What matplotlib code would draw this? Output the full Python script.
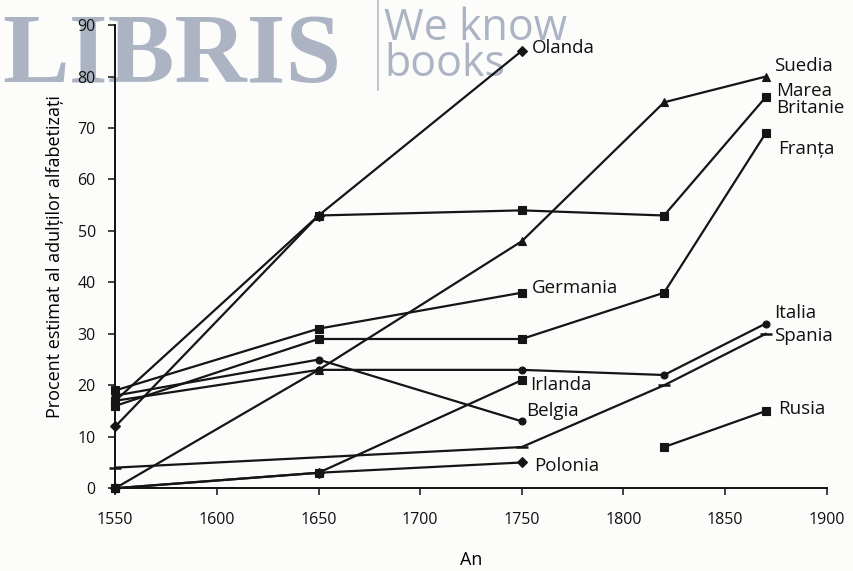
import matplotlib.pyplot as plt
from matplotlib.lines import Line2D

# Date: procent estimat al adulților alfabetizați
tari = ['Olanda', 'Marea Britanie', 'Germania', 'Franța', 'Belgia', 'Italia',
        'Suedia', 'Spania', 'Irlanda', 'Polonia', 'Rusia']

ani = {
    'Olanda': [1550, 1650, 1750],
    'Marea Britanie': [1550, 1650, 1750, 1820, 1870],
    'Germania': [1550, 1650, 1750],
    'Franța': [1550, 1650, 1750, 1820, 1870],
    'Belgia': [1550, 1650, 1750],
    'Italia': [1550, 1650, 1750, 1820, 1870],
    'Suedia': [1550, 1650, 1750, 1820, 1870],
    'Spania': [1550, 1750, 1820, 1870],
    'Irlanda': [1550, 1650, 1750],
    'Polonia': [1550, 1650, 1750],
    'Rusia': [1820, 1870],
}

procente = {
    'Olanda': [12, 53, 85],
    'Marea Britanie': [17, 53, 54, 53, 76],
    'Germania': [19, 31, 38],
    'Franța': [16, 29, 29, 38, 69],
    'Belgia': [18, 25, 13],
    'Italia': [17, 23, 23, 22, 32],
    'Suedia': [0, 23, 48, 75, 80],
    'Spania': [4, 8, 20, 30],
    'Irlanda': [0, 3, 21],
    'Polonia': [0, 3, 5],
    'Rusia': [8, 15],
}

markere = {
    'Olanda': 'D', 'Marea Britanie': 's', 'Germania': 's', 'Franța': 's',
    'Belgia': 'o', 'Italia': 'o', 'Suedia': '^', 'Spania': '_',
    'Irlanda': 's', 'Polonia': 'D', 'Rusia': 's',
}

# pozitia etichetelor (an, procent)
etichete = {
    'Olanda': (1755, 85.5),
    'Suedia': (1874, 82),
    'Marea Britanie': (1875, 75.5),
    'Franța': (1876, 66),
    'Germania': (1755, 39),
    'Irlanda': (1754, 20),
    'Belgia': (1752, 15),
    'Polonia': (1756, 4.3),
    'Italia': (1874, 34),
    'Spania': (1874, 29.6),
    'Rusia': (1876, 15.4),
}

plt.rcParams['font.family'] = ['Open Sans', 'DejaVu Sans']

fig = plt.figure(figsize=(8.54, 5.71), dpi=100, facecolor='#fcfcfb')
ax = fig.add_axes([0.135, 0.145, 0.833, 0.811])
ax.set_facecolor('none')
ax.set_zorder(2)  # axa peste filigran

# filigran
gri = '#a4acbe'
fig.text(2 / 854, 1 - 82 / 571, 'LIBRIS', fontsize=72, family='Liberation Serif',
         weight='bold', color=gri, alpha=0.9, zorder=0)
fig.add_artist(Line2D([378 / 854, 378 / 854], [1, 1 - 90 / 571], color=gri, lw=1.2, alpha=0.8, zorder=0))
fig.text(384 / 854, 1 - 40 / 571, 'We know', fontsize=31, color=gri, alpha=0.9, zorder=0)
fig.text(384 / 854, 1 - 76 / 571, 'books', fontsize=31, color=gri, alpha=0.9, zorder=0)

for tara in tari:
    m = markere[tara]
    ms = 6 if m == 's' else 5
    if m == '^':
        ms = 6
    if m == '_':
        ms = 9
    ax.plot(ani[tara], procente[tara], color='#151515', lw=1.6, marker=m,
            markersize=ms, markeredgewidth=1.8 if m == '_' else 0.8,
            clip_on=False, zorder=3)
    tx, ty = etichete[tara]
    text = 'Marea\nBritanie' if tara == 'Marea Britanie' else tara
    ax.text(tx, ty, text, fontsize=13.5, va='center', ha='left', color='#111111',
            linespacing=0.95)

ax.set_xlim(1550, 1900)
ax.set_ylim(0, 90)
ax.set_xticks(range(1550, 1901, 50))
ax.set_yticks(range(0, 91, 10))
ax.tick_params(labelsize=11.5, length=5, width=1.1, colors='#111111')
ax.tick_params(axis='x', pad=12)
ax.tick_params(axis='y', pad=9)
for s in ['top', 'right']:
    ax.spines[s].set_visible(False)
for s in ['left', 'bottom']:
    ax.spines[s].set_linewidth(1.4)
    ax.spines[s].set_color('#111111')

ax.set_xlabel('An', fontsize=13, labelpad=17)
ax.set_ylabel('Procent estimat al adulților alfabetizați', fontsize=13, labelpad=10)

fig.savefig('out.png', dpi=100, facecolor=fig.get_facecolor())
